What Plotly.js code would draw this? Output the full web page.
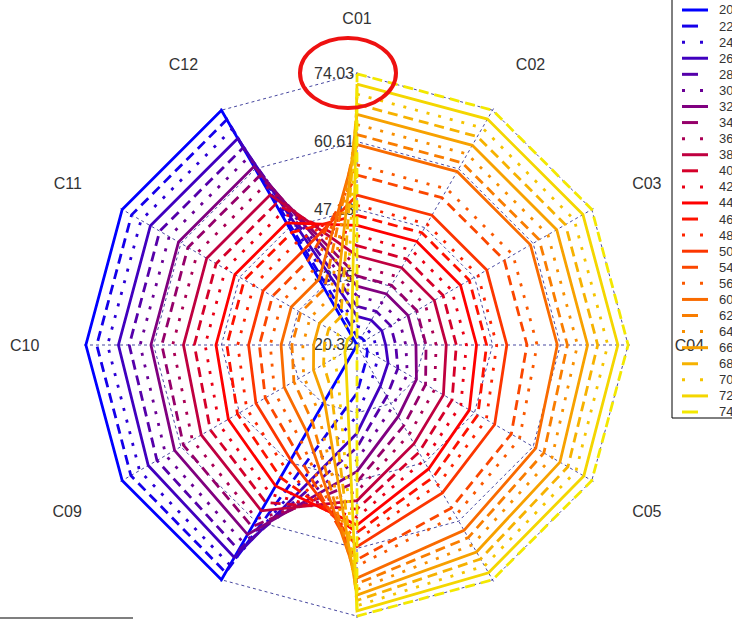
<!DOCTYPE html>
<html>
<head>
<meta charset="utf-8">
<script src="https://cdn.plot.ly/plotly-3.0.1.min.js"></script>
<style>
  html, body { margin: 0; padding: 0; background: #ffffff; }
  #chart { width: 732px; height: 620px; }
</style>
</head>
<body>
<div id="chart"></div>
<script>
// ---- data ----
var categories = ["C01","C02","C03","C04","C05","C06","C07","C08","C09","C10","C11","C12"];
var categoryLabels = ["C01","C02","C03","C04","C05","","","","C09","C10","C11","C12"];
var seriesNames = ["20","22","24","26","28","30","32","34","36","38","40","42","44",
                   "46","48","50","54","56","60","62","64","66","68","70","72","74"];
var radialTickVals = [20.32, 33.75, 47.18, 60.61, 74.03];
var radialTickText = ["20.32", "33.75", "47.18", "60.61", "74.03"];
var radialRange = [20.32, 74.6];

var s20 = [20.32,20.32,20.32,20.32,20.32,20.32,20.32,74.03,74.03,74.03,74.03,74.03];
var s22 = [22,22,22,22,22.70,23.92,29.82,72.35,72.05,71.88,71.88,71.88];
var s24 = [24,24,24,24,25.13,26.96,34.38,70.65,70.07,69.73,69.73,69.73];
var s26 = [26,26,26,26,27.43,29.63,37.79,68.93,68.07,67.58,67.58,67.58];
var s28 = [28,28,28,28,29.65,32.10,40.63,67.20,66.07,65.44,65.44,65.44];
var s30 = [30,30,30,30,31.81,34.43,43.12,65.45,64.06,63.29,63.29,63.29];
var s32 = [32,32,32,32,33.92,36.66,45.37,63.68,62.05,61.14,61.14,61.14];
var s34 = [34,34,34,34,36.00,38.80,47.43,61.89,60.02,58.99,58.99,58.99];
var s36 = [36,36,36,36,38.06,40.89,49.34,60.08,57.99,56.84,56.84,56.84];
var s38 = [38,38,38,38,40.08,42.90,51.14,58.24,55.95,54.69,54.69,54.69];
var s40 = [40,40,40,40,42.07,44.87,52.83,56.38,53.89,52.55,52.55,52.55];
var s42 = [42,42,42,42,44.07,46.79,54.45,54.49,51.83,50.40,50.40,50.40];
var s44 = [44,44,44,44,46.03,48.67,55.98,52.57,49.75,48.25,48.25,48.25];
var s46 = [46,46,46,46,47.97,50.53,57.46,50.62,47.66,46.10,46.10,46.10];
var s48 = [48,48,48,48,49.89,52.35,58.88,48.63,45.56,43.95,43.95,43.95];
var s50 = [50,50,50,50,51.81,54.14,60.25,46.60,43.44,41.80,41.80,41.80];
var s54 = [54,54,54,54,55.61,57.64,62.85,44.53,41.30,39.66,39.66,39.66];
var s56 = [56,56,56,56,57.49,59.36,64.10,42.41,39.15,37.51,37.51,37.51];
var s60 = [60,60,60,60,61.22,62.73,66.49,40.22,36.97,35.36,35.36,35.36];
var s62 = [62,62,62,62,63.07,64.39,67.63,37.96,34.77,33.21,33.21,33.21];
var s64 = [64,64,64,64,64.92,66.03,68.76,35.63,32.54,31.06,31.06,31.06];
var s66 = [66,66,66,66,66.75,67.66,69.85,33.18,30.27,28.91,28.91,28.91];
var s68 = [68,68,68,68,68.57,69.27,70.93,30.59,27.96,26.77,26.77,26.77];
var s70 = [70,70,70,70,70.39,70.86,71.98,27.81,25.58,24.62,24.62,24.62];
var s72 = [72,72,72,72,72.20,72.44,73.00,24.68,23.10,22.47,22.47,22.47];
var s74 = [74.03,74.03,74.03,74.03,74.03,74.03,74.03,20.32,20.32,20.32,20.32,20.32];

var seriesValues = [s20,s22,s24,s26,s28,s30,s32,s34,s36,s38,s40,s42,s44,
                    s46,s48,s50,s54,s56,s60,s62,s64,s66,s68,s70,s72,s74];

// ---- styles ----
function colorFor(i, n) {
  var mid = 12;
  var r, g, b;
  if (i <= mid) {
    var f = i / mid;
    r = Math.round(255 * f); g = 0; b = Math.round(255 * (1 - f));
  } else {
    var f2 = (i - mid) / (n - 1 - mid);
    r = Math.round(255 - 12 * f2); g = Math.round(232 * f2); b = 0;
  }
  return "rgb(" + r + "," + g + "," + b + ")";
}
var plotDashes = ["solid", "10px,6px", "3px,9px"];
var legendDashes = ["solid", "16px,30px", "3px,15px"];

var traces = seriesValues.map(function (vals, i) {
  return {
    type: "scatterpolar",
    mode: "lines",
    name: seriesNames[i],
    r: vals.concat([vals[0]]),
    theta: categories.concat([categories[0]]),
    line: { color: colorFor(i, seriesValues.length), width: 2.8, dash: plotDashes[i % 3] },
    cliponaxis: false,
    showlegend: false,
    hoverinfo: "skip"
  };
});

var W = 732, H = 620;
var cx = 357, cy = 345, R = 274;
function px(x) { return x / W; }
function py(y) { return (H - y) / H; }

// legend box drawn as shapes + annotations (compact 16px rows as in the reference)
var shapes = [
  {
    type: "rect", xref: "paper", yref: "paper",
    x0: px(672), x1: px(760), y0: py(418), y1: py(-4),
    line: { color: "#000000", width: 1 }, fillcolor: "rgba(0,0,0,0)"
  },
  {
    type: "circle", xref: "paper", yref: "paper",
    x0: px(300), x1: px(396), y0: py(108), y1: py(38),
    line: { color: "#ee1111", width: 4 }
  },
  {
    type: "line", xref: "paper", yref: "paper",
    x0: 0, x1: px(133), y0: py(618), y1: py(618),
    line: { color: "#555555", width: 1.5 }
  }
];
var annotations = [];
var rowStart = 10, rowStep = 16.08;
seriesNames.forEach(function (nm, i) {
  var y = rowStart + rowStep * i;
  shapes.push({
    type: "line", xref: "paper", yref: "paper",
    x0: px(682), x1: px(708), y0: py(y), y1: py(y),
    line: { color: colorFor(i, seriesNames.length), width: 3, dash: legendDashes[i % 3] }
  });
  annotations.push({
    xref: "paper", yref: "paper", x: px(717), y: py(y),
    xanchor: "left", yanchor: "middle", showarrow: false,
    text: nm, font: { size: 13, color: "#333333" }
  });
});

var layout = {
  width: W,
  height: H,
  margin: { l: 0, r: 0, t: 0, b: 0, autoexpand: false },
  paper_bgcolor: "#ffffff",
  font: { family: "Liberation Sans, Arial, sans-serif", color: "#333333" },
  showlegend: false,
  polar: {
    domain: { x: [(cx - R) / W, (cx + R) / W], y: [(H - cy - R) / H, (H - cy + R) / H] },
    bgcolor: "#ffffff",
    gridshape: "linear",
    angularaxis: {
      type: "category",
      categoryarray: categories,
      tickmode: "array",
      tickvals: categories,
      ticktext: categoryLabels,
      direction: "clockwise",
      rotation: 90,
      ticks: "outside",
      ticklen: 40,
      tickcolor: "rgba(0,0,0,0)",
      showline: false,
      showgrid: true,
      gridcolor: "rgba(25,25,135,0.8)",
      gridwidth: 1,
      griddash: "dot",
      layer: "below traces",
      tickfont: { size: 16, color: "#333333" }
    },
    radialaxis: {
      range: radialRange,
      angle: 90,
      side: "counterclockwise",
      tickangle: 90,
      tickmode: "array",
      tickvals: radialTickVals,
      ticktext: radialTickText,
      showline: false,
      ticks: "",
      showgrid: true,
      gridcolor: "rgba(25,25,135,0.8)",
      gridwidth: 1,
      griddash: "dot",
      layer: "below traces",
      tickfont: { size: 16, color: "#333333" }
    }
  },
  shapes: shapes,
  annotations: annotations
};

Plotly.newPlot("chart", traces, layout, { displayModeBar: false, staticPlot: true });
</script>
</body>
</html>
